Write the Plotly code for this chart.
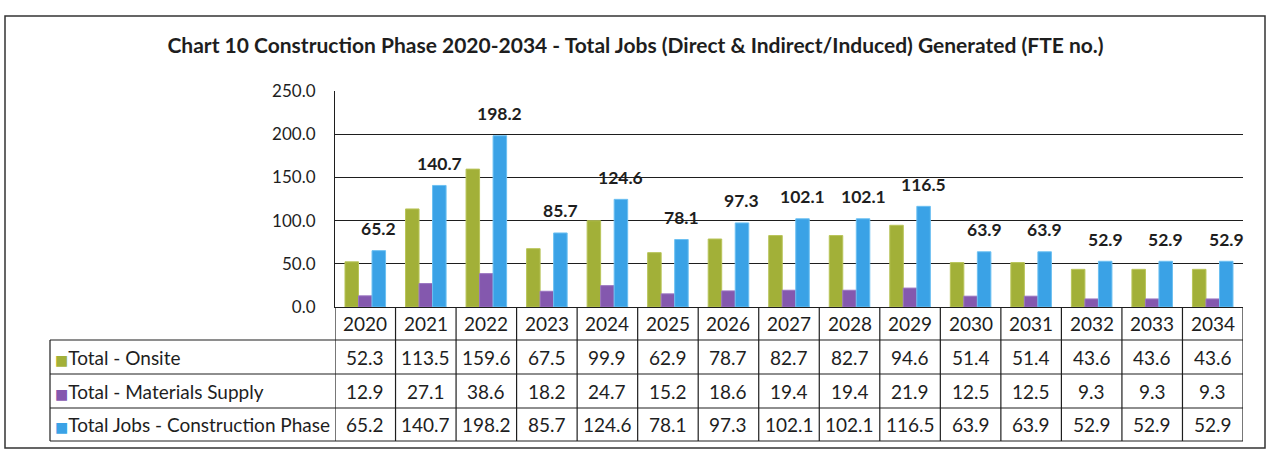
import plotly.graph_objects as go

# ---- data -------------------------------------------------------------
years = ["2020", "2021", "2022", "2023", "2024", "2025", "2026", "2027",
         "2028", "2029", "2030", "2031", "2032", "2033", "2034"]
onsite = [52.3, 113.5, 159.6, 67.5, 99.9, 62.9, 78.7, 82.7, 82.7, 94.6,
          51.4, 51.4, 43.6, 43.6, 43.6]
materials = [12.9, 27.1, 38.6, 18.2, 24.7, 15.2, 18.6, 19.4, 19.4, 21.9,
             12.5, 12.5, 9.3, 9.3, 9.3]
total_jobs = [65.2, 140.7, 198.2, 85.7, 124.6, 78.1, 97.3, 102.1, 102.1,
              116.5, 63.9, 63.9, 52.9, 52.9, 52.9]
series_names = ["Total - Onsite", "Total - Materials Supply",
                "Total Jobs - Construction Phase"]
title_text = ("Chart 10 Construction Phase 2020-2034 - Total Jobs "
              "(Direct & Indirect/Induced) Generated (FTE no.)")

# ---- styling / geometry -----------------------------------------------
W, H = 1271, 453
PL, PR, PT, PB = 335, 1243, 91, 307          # plot area in pixels
BARGAP = 0.33
FONT = "Lato"
INK = "#1e1e1e"
colors = ["#A2B038", "#8458AE", "#3AA2E6"]
edge = ["#B9C55A", "#9A74C0", "#6CC0F2"]

pw, ph = PR - PL, PB - PT


def fx(p):
    """pixel x -> paper x"""
    return (p - PL) / pw


def fy(p):
    """pixel y -> paper y"""
    return (PB - p) / ph


fig = go.Figure()
for name, vals, c, e in zip(series_names, [onsite, materials, total_jobs], colors, edge):
    fig.add_trace(go.Bar(x=years, y=vals, name=name,
                         marker=dict(color=c, line=dict(color=e, width=1))))

# value labels above the total bars (category axis: position by index)
cat_px = pw / len(years)
bar_px = cat_px * (1 - BARGAP) / 3
for i, v in enumerate(total_jobs):
    fig.add_annotation(x=i, y=v, xref="x", yref="y", text=f"<b>{v:.1f}</b>",
                       showarrow=False, yshift=22, xshift=bar_px,
                       font=dict(family=FONT, size=17.5, color=INK))

# ---- data table under the plot ----------------------------------------
row_edges = [PB, 340, 374, 408, 441]           # header + 3 data rows
TL = 50                                         # left edge of label column
TSIZE = 19
line = dict(color=INK, width=1.2)
shapes = []

# horizontal rules
for y in row_edges[1:]:
    shapes.append(dict(type="line", xref="paper", yref="paper",
                       x0=fx(TL), x1=1, y0=fy(y), y1=fy(y), line=line))
# vertical rules between year columns
for i in range(len(years) + 1):
    shapes.append(dict(type="line", xref="x", yref="paper",
                       x0=i - 0.5, x1=i - 0.5, y0=fy(row_edges[0]), y1=fy(row_edges[-1]),
                       line=line))
# left edge of label column
shapes.append(dict(type="line", xref="paper", yref="paper",
                   x0=fx(TL), x1=fx(TL), y0=fy(row_edges[1]), y1=fy(row_edges[-1]),
                   line=line))
# outer chart frame
shapes.append(dict(type="rect", xref="paper", yref="paper",
                   x0=fx(5), x1=fx(1265), y0=fy(16), y1=fy(448),
                   line=dict(color="#333333", width=1.5), layer="below"))

# year header
hdr_mid = (row_edges[0] + row_edges[1]) / 2
for i, yr in enumerate(years):
    fig.add_annotation(x=i, y=fy(hdr_mid), xref="x", yref="paper", text=yr,
                       showarrow=False, yanchor="middle",
                       font=dict(family=FONT, size=TSIZE, color=INK))

# rows: legend key + series name, then one value per year
for r, (name, vals, c) in enumerate(zip(series_names, [onsite, materials, total_jobs], colors)):
    mid = (row_edges[r + 1] + row_edges[r + 2]) / 2
    fig.add_annotation(x=fx(TL + 3), y=fy(mid), xref="paper", yref="paper",
                       text=f"<span style='color:{c};font-size:14px;font-family:DejaVu Sans'>■</span>{name}",
                       showarrow=False, xanchor="left", yanchor="middle",
                       font=dict(family=FONT, size=TSIZE, color=INK))
    for i, v in enumerate(vals):
        fig.add_annotation(x=i, y=fy(mid), xref="x", yref="paper", text=f"{v:.1f}",
                           showarrow=False, yanchor="middle",
                           font=dict(family=FONT, size=TSIZE, color=INK))

fig.update_layout(
    width=W, height=H,
    margin=dict(l=PL, r=W - PR, t=PT, b=H - PB),
    paper_bgcolor="white", plot_bgcolor="white",
    barmode="group", bargap=BARGAP, bargroupgap=0,
    showlegend=False,
    shapes=shapes,
    title=dict(text=f"<b>{title_text}</b>", x=0.5, xref="container",
               y=1 - 46 / H, yref="container", yanchor="middle",
               font=dict(family=FONT, size=21, color=INK)),
    font=dict(family=FONT, color=INK),
)
fig.update_xaxes(type="category", range=[-0.5, len(years) - 0.5], showticklabels=False,
                 showline=True, linecolor=INK, linewidth=1.2, showgrid=False,
                 ticks="")
fig.update_yaxes(range=[0, 250], dtick=50, tickformat=".1f",
                 showgrid=True, gridcolor=INK, gridwidth=1.3,
                 showline=True, linecolor=INK, linewidth=1.2,
                 zeroline=False, ticks="", ticklabelstandoff=15,
                 tickfont=dict(family=FONT, size=17, color=INK))

fig.write_html("out.html")
